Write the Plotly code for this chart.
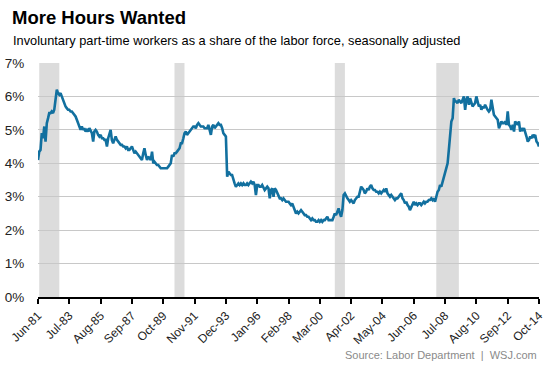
import pandas as pd
import plotly.graph_objects as go

# Monthly share (%) of involuntary part-time workers, Jun-1981 .. Oct-2014
v1981 = [4.1, 4.35, 4.4, 4.9, 4.75, 5.1, 4.65]
v1982 = [5.2, 5.35, 5.5, 5.5, 5.55, 5.5, 5.6, 5.9, 6.2, 6.1, 6.05, 6.1]
v1983 = [6.0, 5.85, 5.8, 5.7, 5.65, 5.6, 5.6, 5.55, 5.55, 5.5, 5.45, 5.4]
v1984 = [5.3, 5.2, 5.15, 5.0, 5.1, 5.0, 5.05, 4.95, 5.0, 4.95, 5.05, 4.95]
v1985 = [4.9, 4.65, 4.95, 5.0, 4.95, 4.85, 4.8, 4.85, 4.75, 4.75, 4.7, 4.7]
v1986 = [4.5, 4.75, 4.85, 5.0, 4.7, 4.6, 4.7, 4.8, 4.7, 4.65, 4.6, 4.55]
v1987 = [4.55, 4.5, 4.5, 4.45, 4.5, 4.4, 4.4, 4.45, 4.5, 4.4, 4.3, 4.35]
v1988 = [4.3, 4.25, 4.2, 4.15, 4.1, 4.3, 4.45, 4.25, 4.1, 4.2, 4.15, 4.1]
v1989 = [4.35, 4.0, 4.05, 4.0, 3.95, 3.95, 3.9, 3.85, 3.85, 3.85, 3.85, 3.85]
v1990 = [3.85, 3.9, 3.95, 4.0, 4.25, 4.2, 4.3, 4.3, 4.35, 4.4, 4.45, 4.6]
v1991 = [4.6, 4.75, 4.9, 4.95, 4.85, 4.9, 4.95, 5.0, 5.05, 5.1, 5.1, 5.05]
v1992 = [5.15, 5.2, 5.15, 5.1, 5.1, 5.1, 5.05, 5.05, 5.05, 5.15, 5.0, 4.85]
v1993 = [5.1, 5.15, 5.05, 5.1, 5.15, 5.2, 5.15, 5.15, 5.05, 4.9, 4.85, 4.8]
v1994 = [3.6, 3.75, 3.7, 3.65, 3.65, 3.5, 3.4, 3.3, 3.35, 3.4, 3.35, 3.4]
v1995 = [3.35, 3.4, 3.35, 3.35, 3.4, 3.35, 3.4, 3.45, 3.4, 3.45, 3.35, 3.05]
v1996 = [3.35, 3.35, 3.3, 3.3, 3.35, 3.25, 3.2, 3.25, 3.3, 3.25, 2.95, 3.2]
v1997 = [3.25, 3.0, 3.25, 3.2, 3.1, 3.0, 2.95, 2.95, 2.9, 2.95, 2.9, 2.85]
v1998 = [2.85, 2.85, 2.8, 2.75, 2.8, 2.7, 2.55, 2.5, 2.55, 2.5, 2.55, 2.6]
v1999 = [2.55, 2.5, 2.45, 2.45, 2.4, 2.4, 2.35, 2.3, 2.35, 2.3, 2.3, 2.25]
v2000 = [2.25, 2.3, 2.25, 2.3, 2.25, 2.3, 2.3, 2.35, 2.4, 2.3, 2.3, 2.3]
v2001 = [2.3, 2.4, 2.5, 2.45, 2.55, 2.65, 2.5, 2.4, 2.6, 3.05, 3.1, 3.0]
v2002 = [2.95, 2.9, 2.85, 2.9, 2.85, 2.8, 2.9, 2.95, 3.0, 3.0, 3.15, 3.3]
v2003 = [3.25, 3.2, 3.1, 3.15, 3.25, 3.2, 3.3, 3.35, 3.25, 3.2, 3.2, 3.15]
v2004 = [3.15, 3.1, 3.15, 3.1, 3.15, 3.2, 3.15, 3.25, 3.1, 3.05, 3.0, 3.05]
v2005 = [3.0, 2.95, 2.9, 2.95, 2.95, 3.0, 3.05, 3.1, 2.95, 2.9, 2.8, 2.85]
v2006 = [2.75, 2.7, 2.6, 2.7, 2.8, 2.85, 2.75, 2.8, 2.75, 2.8, 2.8, 2.75]
v2007 = [2.8, 2.85, 2.8, 2.85, 2.85, 2.9, 2.9, 2.95, 2.9, 2.95, 2.85, 3.0]
v2008 = [3.15, 3.2, 3.35, 3.3, 3.45, 3.6, 3.7, 3.85, 4.0, 4.4, 4.75, 5.25]
v2009 = [5.35, 5.95, 5.85, 5.85, 5.8, 5.9, 5.85, 5.8, 5.9, 6.0, 5.6, 5.9]
v2010 = [6.0, 5.75, 5.95, 5.85, 5.7, 5.75, 5.8, 6.0, 5.85, 5.7, 5.75, 5.6]
v2011 = [5.7, 5.65, 5.75, 5.65, 5.6, 5.55, 5.6, 5.9, 5.65, 5.45, 5.4, 5.35]
v2012 = [5.3, 5.05, 5.15, 5.25, 5.2, 5.2, 5.25, 5.15, 5.55, 5.15, 5.1, 5.0]
v2013 = [5.15, 4.95, 5.25, 5.2, 5.15, 5.25, 4.95, 5.05, 5.0, 5.05, 4.95, 4.8]
v2014 = [4.65, 4.7, 4.8, 4.75, 4.85, 4.8, 4.85, 4.65, 4.6, 4.5]

start_month = "1981-06-01"
recession_starts = ["1981-07-01", "1990-07-01", "2001-03-01", "2007-12-01"]
recession_ends = ["1982-11-01", "1991-03-01", "2001-11-01", "2009-06-01"]
tick_labels = ["Jun-81", "Jul-83", "Aug-85", "Sep-87", "Oct-89", "Nov-91", "Dec-93",
               "Jan-96", "Feb-98", "Mar-00", "Apr-02", "May-04", "Jun-06", "Jul-08",
               "Aug-10", "Sep-12", "Oct-14"]
y_ticks = [0, 1, 2, 3, 4, 5, 6, 7]

values = (v1981 + v1982 + v1983 + v1984 + v1985 + v1986 + v1987 + v1988 + v1989 +
          v1990 + v1991 + v1992 + v1993 + v1994 + v1995 + v1996 + v1997 + v1998 +
          v1999 + v2000 + v2001 + v2002 + v2003 + v2004 + v2005 + v2006 + v2007 +
          v2008 + v2009 + v2010 + v2011 + v2012 + v2013 + v2014)
dates = pd.date_range(start_month, periods=len(values), freq="MS")
tick_vals = [dates[i * 25] for i in range(len(tick_labels))]

FONT = "Arial, Liberation Sans, sans-serif"

fig = go.Figure()
fig.add_trace(go.Scatter(x=dates, y=values, mode="lines",
                         line=dict(color="#12709f", width=2.6),
                         hoverinfo="x+y", showlegend=False))

shapes = []
for s, e in zip(recession_starts, recession_ends):
    shapes.append(dict(type="rect", xref="x", yref="paper", x0=s, x1=e, y0=0, y1=1,
                       fillcolor="#dcdcdc", line=dict(width=0), layer="below"))

fig.update_layout(
    width=553, height=369,
    margin=dict(l=38, r=14, t=63, b=72),
    paper_bgcolor="white", plot_bgcolor="white",
    font=dict(family=FONT, color="#222"),
    shapes=shapes,
    xaxis=dict(range=[dates[0], dates[-1]], tickvals=tick_vals, ticktext=tick_labels,
               tickangle=-45, tickfont=dict(size=12, color="#222"), automargin=False,
               showgrid=False, showline=True, linecolor="black", linewidth=2,
               ticks="outside", ticklen=5, tickcolor="black", tickwidth=1.5,
               zeroline=False),
    yaxis=dict(range=[0, 7], tickvals=y_ticks, ticktext=[f"{t}%" for t in y_ticks],
               tickfont=dict(size=13.5, color="#222"), showgrid=True, automargin=False,
               gridcolor="#c8c8c8", gridwidth=1, zeroline=False, showline=False,
               ticks="outside", ticklen=10, tickcolor="rgba(0,0,0,0)"),
    annotations=[
        dict(text="<b>More Hours Wanted</b>", xref="paper", yref="paper",
             x=(10 - 38) / 501, y=(297 - 17) / 234, xanchor="left", yanchor="middle",
             showarrow=False, font=dict(size=18.5, color="black", family=FONT)),
        dict(text="Involuntary part-time workers as a share of the labor force, seasonally adjusted",
             xref="paper", yref="paper",
             x=(11 - 38) / 501, y=(297 - 41) / 234, xanchor="left", yanchor="middle",
             showarrow=False, font=dict(size=12.8, color="black", family=FONT)),
        dict(text="Source: Labor Department  |  WSJ.com", xref="paper", yref="paper",
             x=1.0, y=(297 - 355) / 234, xanchor="right", yanchor="middle",
             showarrow=False, font=dict(size=11, color="#8a8a8a", family=FONT)),
    ],
)

fig.write_html("out.html", config={"displayModeBar": False},
               post_script="document.body.style.margin='0';document.body.style.overflow='hidden';")
